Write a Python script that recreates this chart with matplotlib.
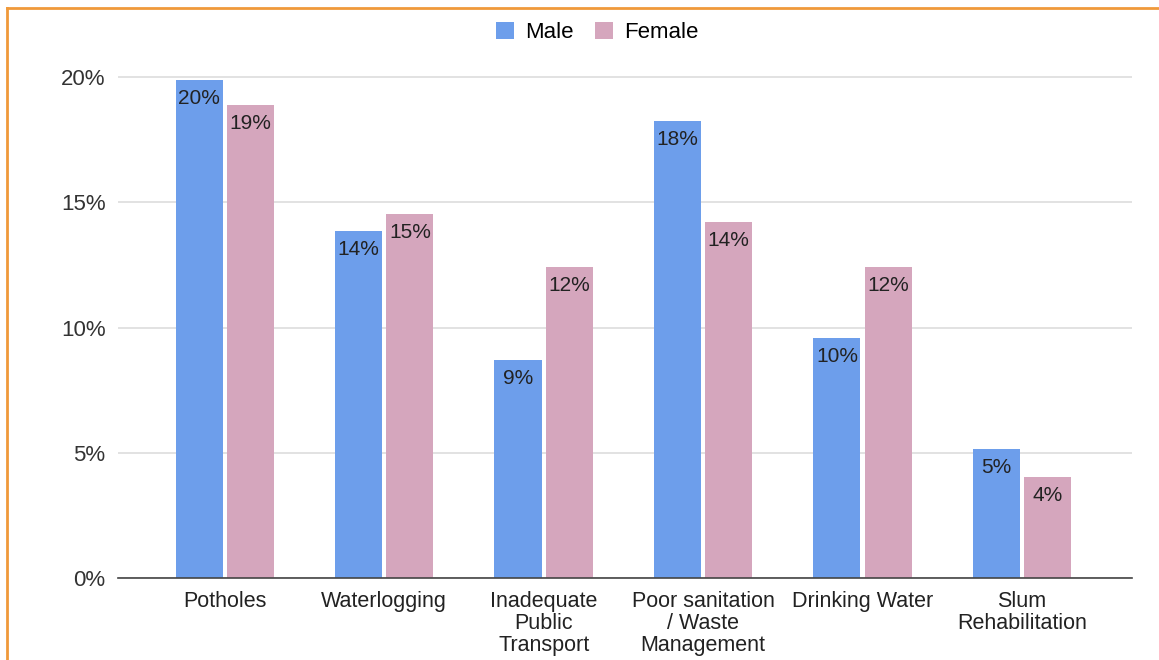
import matplotlib
matplotlib.use("Agg")
import matplotlib.pyplot as plt
import numpy as np
from matplotlib.lines import Line2D

plt.rcParams['font.family'] = ['Liberation Sans', 'DejaVu Sans']

categories = ["Potholes", "Waterlogging", "Inadequate\nPublic\nTransport",
              "Poor sanitation\n/ Waste\nManagement", "Drinking Water", "Slum\nRehabilitation"]
male = [19.9, 13.85, 8.7, 18.25, 9.6, 5.15]
female = [18.9, 14.55, 12.4, 14.2, 12.4, 4.05]
yticks = [0, 5, 10, 15, 20]
ytick_labels = ["0%", "5%", "10%", "15%", "20%"]

blue = "#6d9eeb"
pink = "#d5a6bd"

fig = plt.figure(figsize=(11.59, 6.60), dpi=100)
ax = fig.add_axes([0.1018, 0.1242, 0.9767 - 0.1018, 0.9023 - 0.1242])

x = np.arange(len(categories))
w = 0.295
off = 0.161
bm = ax.bar(x - off, male, w, color=blue, label="Male", zorder=3)
bf = ax.bar(x + off, female, w, color=pink, label="Female", zorder=3)

for xs, vals in ((x - off, male), (x + off, female)):
    for xi, v in zip(xs, vals):
        ax.annotate(f"{v:.0f}%", (xi, v), xytext=(0, -6.5), textcoords="offset points",
                    ha="center", va="top", fontsize=15, color="#222222", zorder=4)

ax.set_xlim(-0.67, 5.69)
ax.set_ylim(0, 20.5)
ax.set_yticks(yticks)
ax.set_yticklabels(ytick_labels)
ax.set_xticks(x)
ax.set_xticklabels(categories, fontsize=15.5, color="#222222", linespacing=1.08)
ax.tick_params(axis="x", length=0, pad=9)
ax.tick_params(axis="y", length=0, pad=9, labelsize=16, labelcolor="#333333")
ax.grid(axis="y", color="#dddddd", linewidth=1.2, zorder=0)
for s in ("top", "right", "left"):
    ax.spines[s].set_visible(False)
ax.spines["bottom"].set_color("#444444")
ax.spines["bottom"].set_linewidth(1.2)
ax.spines["bottom"].set_zorder(5)

fig.legend(handles=[bm, bf], labels=["Male", "Female"], loc="center",
           bbox_to_anchor=(0.515, 0.951), ncol=2, frameon=False, fontsize=16,
           handlelength=0.82, handleheight=0.82, handletextpad=0.5, columnspacing=0.95)

orange = "#f0993a"
fig.add_artist(Line2D([7 / 1159, 1.0], [1 - 8 / 660, 1 - 8 / 660], color=orange, linewidth=2, transform=fig.transFigure))
fig.add_artist(Line2D([7 / 1159, 7 / 1159], [0, 1 - 8 / 660], color=orange, linewidth=2, transform=fig.transFigure))

fig.savefig("out.png", dpi=100)
